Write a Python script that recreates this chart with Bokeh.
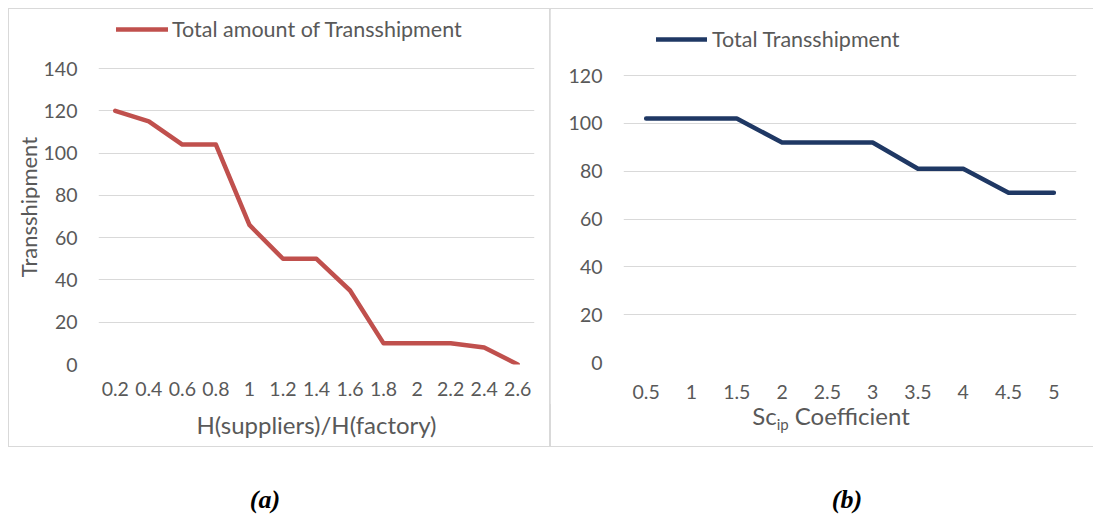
from bokeh.plotting import figure
from bokeh.models import Range1d, FactorRange, FixedTicker, Div
from bokeh.layouts import column, row
from bokeh.embed import file_html
from bokeh.resources import INLINE

# ---- data: panel (a)
h_ratio = ["0.2", "0.4", "0.6", "0.8", "1", "1.2", "1.4", "1.6", "1.8", "2", "2.2", "2.4", "2.6"]
transship_a = [120, 115, 104, 104, 66, 50, 50, 35, 10, 10, 10, 8, 0]
y_ticks_a = [0, 20, 40, 60, 80, 100, 120, 140]

# ---- data: panel (b)
sc_coef = ["0.5", "1", "1.5", "2", "2.5", "3", "3.5", "4", "4.5", "5"]
transship_b = [102, 102, 102, 92, 92, 92, 81, 81, 71, 71]
y_ticks_b = [0, 20, 40, 60, 80, 100, 120]

FONT = "Lato"
TXT = "#595959"
GRID = "#d9d9d9"
BOX = {"outline": "1px solid #d9d9d9", "outline-offset": "0px"}


def style(p, yticks, ystand, xstand):
    p.xgrid.visible = False
    p.ygrid.grid_line_color = GRID
    p.ygrid.grid_line_width = 1
    p.outline_line_color = None
    p.yaxis.ticker = FixedTicker(ticks=yticks)
    for ax in (p.xaxis[0], p.yaxis[0]):
        ax.axis_line_color = None
        ax.major_tick_line_color = None
        ax.minor_tick_line_color = None
        ax.major_tick_in = 0
        ax.major_tick_out = 0
        ax.major_label_text_font = FONT
        ax.major_label_text_font_size = "19.5px"
        ax.major_label_text_color = TXT
        ax.axis_label_text_font = FONT
        ax.axis_label_text_font_size = "24px"
        ax.axis_label_text_color = TXT
        ax.axis_label_text_font_style = "normal"
    p.yaxis.major_label_standoff = ystand
    p.xaxis.major_label_standoff = xstand


def style_legend(p, loc, gw, standoff):
    lg = p.legend[0]
    lg.location = loc
    lg.padding = 0
    lg.margin = 0
    lg.spacing = 0
    lg.border_line_color = None
    lg.background_fill_alpha = 0
    lg.glyph_width = gw
    lg.glyph_height = 22
    lg.label_height = 22
    lg.label_standoff = standoff
    lg.label_text_font = FONT
    lg.label_text_font_size = "21.5px"
    lg.label_text_color = TXT


def abs_text(w, h, cx, cy, inner, css):
    return (f'<div style="position:relative;width:{w}px;height:{h}px;">'
            f'<span style="position:absolute;left:{cx}px;top:{cy}px;white-space:nowrap;line-height:1;{css}">'
            f'{inner}</span></div>')


# ---- panel (a): frame from canvas top (0) to 355; top tick (140) sits 59px below the top
fa_h, fa_gap = 355, 59
pa = figure(width=511, height=437, x_range=FactorRange(factors=h_ratio),
            y_range=Range1d(0, y_ticks_a[-1] * fa_h / (fa_h - fa_gap)),
            toolbar_location=None, output_backend="svg", title=None,
            min_border_left=59, min_border_right=16, min_border_top=0, min_border_bottom=437 - fa_h)
pa.line(x=h_ratio, y=transship_a, line_color="#c0504d", line_width=4.5,
        line_join="round", line_cap="round", legend_label="Total amount of Transshipment")
style(pa, y_ticks_a, 21, 17)
pa.xaxis.axis_label = "H(suppliers)/H(factory)"
pa.xaxis.axis_label_standoff = 11
style_legend(pa, (18, 322), 52, 4)

# y-axis title of (a), rotated
yt_a = Div(width=30, height=437, margin=0,
           text=abs_text(30, 437, 20, 198, "Transshipment",
                         "font-family:Lato;font-size:22px;color:#595959;"
                         "transform:translate(-50%,-50%) rotate(-90deg);"))

box_a = row(yt_a, pa, styles=BOX, margin=0)

# ---- panel (b): frame from canvas top (0) to 353; top tick (120) sits 66px below the top
fb_h, fb_gap = 353, 66
pb = figure(width=543, height=395, x_range=FactorRange(factors=sc_coef),
            y_range=Range1d(0, y_ticks_b[-1] * fb_h / (fb_h - fb_gap)),
            toolbar_location=None, output_backend="svg", title=None,
            min_border_left=73, min_border_right=17, min_border_top=0, min_border_bottom=395 - fb_h)
pb.line(x=sc_coef, y=transship_b, line_color="#1f3864", line_width=4.5,
        line_join="round", line_cap="round", legend_label="Total Transshipment")
style(pb, y_ticks_b, 21, 22)
style_legend(pb, (33, 310), 51, 5)

# x-axis title of (b) with a real subscript
xt_b = Div(width=543, height=42, margin=0,
           text=abs_text(543, 42, 281, 14,
                         'Sc<sub style="font-size:15px;vertical-align:-5px;line-height:1;">ip</sub> Coefficient',
                         "font-family:Lato;font-size:24px;color:#595959;transform:translate(-50%,-50%);"))

box_b = column(pb, xt_b, styles=BOX, margin=0)


# ---- captions
def caption(txt, w, cx):
    return Div(width=w, height=66, margin=0,
               text=abs_text(w, 66, cx, 54, txt,
                             "font-family:'Liberation Serif';font-size:26px;font-style:italic;"
                             "font-weight:bold;color:#000;transform:translate(-50%,-50%);"))


ca = caption("(a)", 541, 256)
cb = caption("(b)", 543, 297)

layout = column(row(box_a, box_b, margin=0), row(ca, cb, margin=0), margin=(9, 0, 0, 9))
open("out.html", "w").write(file_html(layout, INLINE))
